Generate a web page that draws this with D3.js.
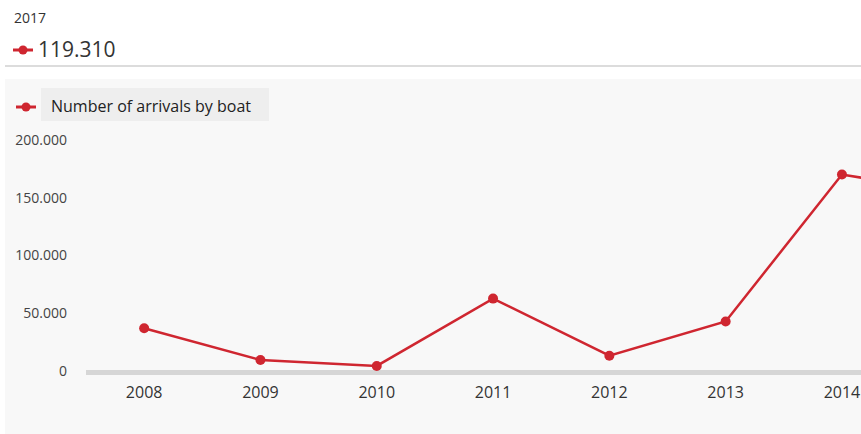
<!DOCTYPE html>
<html>
<head>
<meta charset="utf-8">
<script src="https://cdn.jsdelivr.net/npm/d3@7"></script>
<style>
  html, body { margin: 0; padding: 0; background: #fff; overflow: hidden; }
  #chart { width: 861px; height: 434px; }
  text { font-family: "Open Sans", "Noto Sans", sans-serif; }
</style>
</head>
<body>
<div id="chart"></div>
<script>
// ------------- Data ----------------- //
const years = ['2008', '2009', '2010', '2011', '2012', '2013', '2014', '2015', '2016', '2017'];
const arrivals = [36951, 9573, 4406, 62692, 13267, 42925, 170100, 153842, 181436, 119310];
const yTicks = [0, 50000, 100000, 150000, 200000];
const seriesName = 'Number of arrivals by boat';
const headlineYear = '2017';

const red = '#cf2630';
const fmt = (v) => d3.format(',')(v).replace(/,/g, '.');

const panelWidth = 861, panelHeight = 434;

const svg = d3.select('#chart')
  .append('svg')
  .attr('width', panelWidth)
  .attr('height', panelHeight);

// header: selected year + value
svg.append('text')
  .attr('x', 14).attr('y', 23)
  .attr('font-size', 14).attr('fill', '#333')
  .text(headlineYear);

function marker(g, x, y) {
  g.append('line')
    .attr('x1', x).attr('x2', x + 20).attr('y1', y).attr('y2', y)
    .attr('stroke', red).attr('stroke-width', 3);
  g.append('circle')
    .attr('cx', x + 10).attr('cy', y).attr('r', 4.5).attr('fill', red);
}

marker(svg, 13, 50);
svg.append('text')
  .attr('x', 38).attr('y', 57)
  .attr('font-size', 21).attr('fill', '#333')
  .text(fmt(arrivals[years.indexOf(headlineYear)]));

svg.append('rect')
  .attr('x', 5).attr('y', 65).attr('width', panelWidth - 5).attr('height', 2)
  .attr('fill', '#dcdcdc');

// chart panel background
svg.append('rect')
  .attr('x', 5).attr('y', 79).attr('width', panelWidth - 5).attr('height', panelHeight - 79)
  .attr('fill', '#f8f8f8');

// legend
marker(svg, 16, 107);
svg.append('rect')
  .attr('x', 41).attr('y', 88).attr('width', 228).attr('height', 33)
  .attr('fill', '#eeeeee');
svg.append('text')
  .attr('x', 51).attr('y', 112)
  .attr('font-size', 16).attr('fill', '#222')
  .text(seriesName);

// scales
const step = 116.3;
const x = d3.scaleBand()
  .domain(years)
  .range([86, 86 + step * years.length]);

const y = d3.scaleLinear()
  .domain([0, 200000])
  .range([371, 140]);

// y axis labels
const yAxis = d3.axisLeft(y)
  .tickValues(yTicks)
  .tickSize(0)
  .tickPadding(0)
  .tickFormat(fmt);

svg.append('g')
  .attr('transform', 'translate(67,0)')
  .call(yAxis)
  .call((g) => g.select('.domain').remove())
  .selectAll('.tick text')
  .attr('font-family', '"Open Sans", "Noto Sans", sans-serif')
  .attr('font-size', 14)
  .attr('fill', '#444');

// baseline
svg.append('rect')
  .attr('x', 86).attr('y', y(0) - 1).attr('width', panelWidth - 86).attr('height', 5)
  .attr('fill', '#d6d6d6');

// x axis labels (only those inside the visible panel)
const xAxis = d3.axisBottom(x)
  .tickValues(years.filter((yr) => x(yr) < panelWidth))
  .tickSize(0)
  .tickPadding(0);
svg.append('g')
  .attr('transform', 'translate(0,' + (y(0) + 16) + ')')
  .call(xAxis)
  .call((g) => g.select('.domain').remove())
  .selectAll('.tick text')
  .attr('font-family', '"Open Sans", "Noto Sans", sans-serif')
  .attr('font-size', 16)
  .attr('fill', '#333');

// line + points
const pts = years.map((yr, i) => ({ year: yr, value: arrivals[i] }));
const cx = (d) => x(d.year) + x.bandwidth() / 2;

svg.append('path')
  .datum(pts)
  .attr('fill', 'none')
  .attr('stroke', red)
  .attr('stroke-width', 2.5)
  .attr('d', d3.line().x(cx).y((d) => y(d.value)));

svg.selectAll('.dot')
  .data(pts)
  .enter()
  .append('circle')
  .attr('class', 'dot')
  .attr('cx', cx)
  .attr('cy', (d) => y(d.value))
  .attr('r', 5)
  .attr('fill', red);
</script>
</body>
</html>
